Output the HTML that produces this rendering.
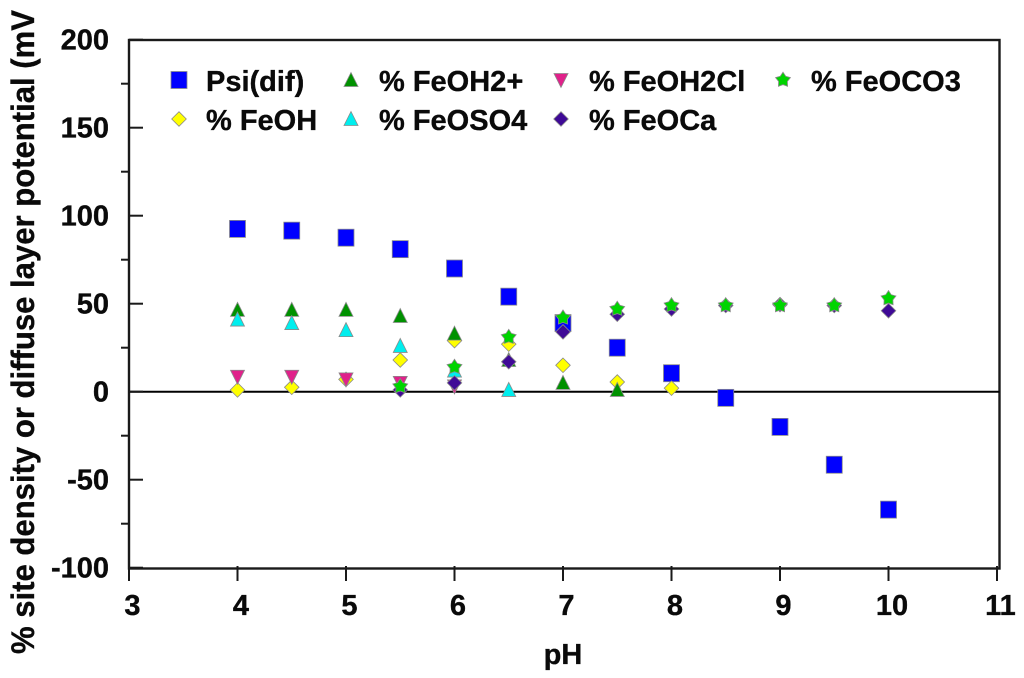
<!DOCTYPE html>
<html lang="en">
<head>
<meta charset="utf-8">
<title>Surface speciation vs pH</title>
<style>
html,body{margin:0;padding:0;background:#fff;width:1024px;height:678px;overflow:hidden}
svg{display:block}
text{font-family:"Liberation Sans",Arial,sans-serif;font-weight:bold;fill:#0a0a0a;stroke:#0a0a0a;stroke-width:0.35px}
</style>
</head>
<body>
<svg id="chart" xmlns="http://www.w3.org/2000/svg" width="1024" height="678" viewBox="0 0 1024 678">
  <g id="axes"></g>
  <g id="marks"></g>
  <g id="legend"></g>
  <text x="563" y="664" font-size="29" text-anchor="middle">pH</text>
  <text transform="translate(34,654) rotate(-90)" font-size="32" textLength="644" lengthAdjust="spacingAndGlyphs">% site density or diffuse layer potential (mV</text>
</svg>
<script>
const xTicks = [3, 4, 5, 6, 7, 8, 9, 10, 11];
const yTicks = [-100, -50, 0, 50, 100, 150, 200];
const yMinorTicks = [-75, -25, 25, 75, 125, 175];

const phPsi = [4, 4.5, 5, 5.5, 6, 6.5, 7, 7.5, 8, 8.5, 9, 9.5, 10];
const psiDif = [92.5, 91.5, 87.5, 81, 70, 54, 39, 25, 10.5, -3.5, -20, -41.5, -67];

const phFeOH = [4, 4.5, 5, 5.5, 6, 6.5, 7, 7.5, 8];
const feOH = [1, 2.5, 7, 18, 29, 27, 15, 5.5, 2];

const phFeOH2 = [4, 4.5, 5, 5.5, 6, 6.5, 7, 7.5];
const feOH2 = [46.5, 46.5, 46.5, 43, 33, 18, 5, 1];

const phFeOSO4 = [4, 4.5, 5, 5.5, 6, 6.5];
const feOSO4 = [41, 39, 35, 26, 12, 1];

const phFeOH2Cl = [4, 4.5, 5, 5.5, 6];
const feOH2Cl = [8.5, 8.5, 7, 5, 3];

const phFeOCa = [5.5, 6, 6.5, 7, 7.5, 8, 8.5, 9, 9.5, 10];
const feOCa = [1, 5, 17, 34, 44, 47, 49, 49.5, 49, 46];

const phFeOCO3 = [5.5, 6, 6.5, 7, 7.5, 8, 8.5, 9, 9.5, 10];
const feOCO3 = [3, 14, 31, 42, 47, 49, 49, 49, 49, 53];

const NS = 'http://www.w3.org/2000/svg';
const xScale = v => 129 + (v - 3) * 108.5;
const yScale = v => 391.7 - v * 1.76;

function make(tag, attrs, parent) {
  const el = document.createElementNS(NS, tag);
  for (const k in attrs) el.setAttribute(k, attrs[k]);
  parent.appendChild(el);
  return el;
}

const axes = document.getElementById('axes');
const marks = document.getElementById('marks');
const legend = document.getElementById('legend');
const ink = '#1a1a1a';

const frame = make('rect', {x: 129, y: 40, width: 870.5, height: 528.5, fill: 'none', stroke: ink, 'stroke-width': 2.4}, axes);



const zero = make('line', {x1: 129, x2: 999.5, y1: yScale(0), y2: yScale(0), stroke: '#000', 'stroke-width': 2}, axes);



xTicks.forEach(v => {
  const x = xScale(v);
  const t = make('line', {x1: x, x2: x, y1: 566, y2: 581, stroke: ink, 'stroke-width': 2}, axes);
  
  
  const l = make('text', {x: x + 3.5, y: 615, 'font-size': 29, 'text-anchor': 'middle'}, axes);
  
  
  l.textContent = v;
});

yTicks.forEach(v => {
  const y = yScale(v);
  const t = make('line', {x1: 129, x2: 143, y1: y, y2: y, stroke: ink, 'stroke-width': 2}, axes);
  
  
  const l = make('text', {x: 109, y: y + 10, 'font-size': 29, 'text-anchor': 'end'}, axes);
  
  
  l.textContent = v;
});

yMinorTicks.forEach(v => {
  const y = yScale(v);
  const t = make('line', {x1: 121, x2: 129, y1: y, y2: y, stroke: ink, 'stroke-width': 2}, axes);
  
  
});

function drawMarker(shape, cx, cy, fill, parent) {
  const stroke = '#8a8a8a';
  const common = {fill: fill, stroke: stroke, 'stroke-width': 0.8};
  if (shape === 'square') {
    return make('rect', Object.assign({x: cx - 8, y: cy - 8.5, width: 16, height: 17}, common), parent);
  }
  let pts;
  if (shape === 'up') pts = [[0, -7.5], [7, 6.5], [-7, 6.5]];
  if (shape === 'down') pts = [[0, 7.5], [7, -6.5], [-7, -6.5]];
  if (shape === 'diamond') pts = [[0, -7.3], [7.3, 0], [0, 7.3], [-7.3, 0]];
  if (shape === 'star') {
    pts = [];
    for (let i = 0; i < 10; i++) {
      const r = i % 2 ? 4.6 : 7.8;
      const a = -Math.PI / 2 + i * Math.PI / 5;
      pts.push([r * Math.cos(a), r * Math.sin(a)]);
    }
  }
  const p = pts.map(q => (cx + q[0]).toFixed(2) + ',' + (cy + q[1]).toFixed(2)).join(' ');
  return make('polygon', Object.assign({points: p}, common), parent);
}

function drawSeries(name, xs, ys, shape, fill) {
  const g = make('g', {}, marks);
  
  
  xs.forEach((x, i) => {
    const m = drawMarker(shape, xScale(x), yScale(ys[i]), fill, g);
    
    
  });
}

drawSeries('series-psi-dif', phPsi, psiDif, 'square', '#0000ff');
drawSeries('series-feoh', phFeOH, feOH, 'diamond', '#ffff00');
drawSeries('series-feoh2-plus', phFeOH2, feOH2, 'up', '#009100');
drawSeries('series-feoso4', phFeOSO4, feOSO4, 'up', '#00eeee');
drawSeries('series-feoh2cl', phFeOH2Cl, feOH2Cl, 'down', '#e0218a');
drawSeries('series-feoca', phFeOCa, feOCa, 'diamond', '#3f0a96');
drawSeries('series-feoco3', phFeOCO3, feOCO3, 'star', '#00d400');

const legendLabels = ['Psi(dif)', '% FeOH2+', '% FeOH2Cl', '% FeOCO3', '% FeOH', '% FeOSO4', '% FeOCa'];
const legendShapes = ['square', 'up', 'down', 'star', 'diamond', 'up', 'diamond'];
const legendFills = ['#0000ff', '#009100', '#e0218a', '#00d400', '#ffff00', '#00eeee', '#3f0a96'];
const legendMarkerX = [179, 351, 561, 783];
const legendTextX = [206, 379, 589, 811];
const legendRowY = [80, 119];

legendLabels.forEach((label, i) => {
  const col = i < 4 ? i : i - 4;
  const row = i < 4 ? 0 : 1;
  const g = make('g', {}, legend);
  
  
  const m = drawMarker(legendShapes[i], legendMarkerX[col], legendRowY[row], legendFills[i], g);
  
  
  const t = make('text', {x: legendTextX[col], y: legendRowY[row] + 11, 'font-size': 29}, g);
  
  
  t.textContent = label;
});
</script>
</body>
</html>
